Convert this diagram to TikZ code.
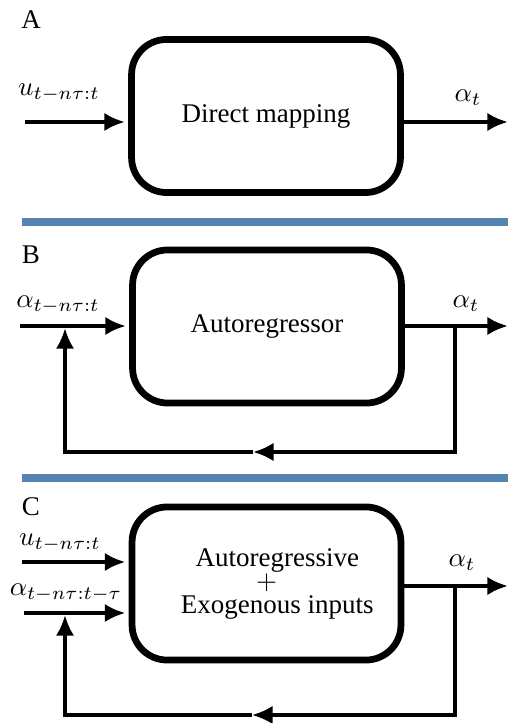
\documentclass[tikz,border=0pt]{standalone}
\usepackage{fontspec}
\setmainfont{Liberation Serif}
\usetikzlibrary{arrows.meta}
\definecolor{sepblue}{RGB}{86,132,176}
\tikzset{
  blockbox/.style={draw, line width=2.5pt, rounded corners=13pt, minimum width=99.6pt, minimum height=56.7pt, align=center, font=\fontsize{10}{12}\selectfont},
  sigarrow/.style={line width=1.6pt, -{Latex[length=7.6pt,width=6.8pt]}},
  fbline/.style={line width=1.3pt},
  fbarrow/.style={line width=1.3pt, -{Latex[length=7.6pt,width=6.8pt]}},
  seprule/.style={draw=sepblue, line width=2.6pt},
  panel/.style={font=\fontsize{10}{12}\selectfont},
  siglabel/.style={font=\fontsize{10}{12}\selectfont, inner sep=0pt}
}
\begin{document}
\begin{tikzpicture}[x=0.3704pt,y=-0.3704pt]
\useasboundingbox (0,0) rectangle (508,723);
% ---------- A ----------
\node[panel] (labA) at (31,20) {A};
\node[blockbox] (boxA) at (266,116) {Direct mapping};
\coordinate (inA) at (25,122);
\coordinate (outA) at (508,122);
\draw[sigarrow, shorten >=1.2pt] (inA) -- (boxA.west |- inA);
\draw[sigarrow] (boxA.east |- outA) -- (outA);
\node[siglabel] (uA) at (59,93) {$u_{t-n\tau:t}$};
\node[siglabel] (aA) at (468,98) {$\alpha_t$};
% separator 1
\coordinate (s1a) at (22,222);
\coordinate (s1b) at (508,222);
\draw[seprule] (s1a) -- (s1b);
% ---------- B ----------
\node[panel] (labB) at (31,255) {B};
\node[blockbox] (boxB) at (267,326.5) {\raisebox{-1pt}{Autoregressor}};
\coordinate (inB) at (20,326);
\coordinate (outB) at (508,326);
\coordinate (jB) at (455,326);
\coordinate (cB1) at (455,452);
\coordinate (mB) at (253,452);
\coordinate (cB2) at (65,452);
\coordinate (kB) at (65,326);
\draw[sigarrow, shorten >=1.2pt] (inB) -- (boxB.west |- inB);
\draw[sigarrow] (boxB.east |- outB) -- (outB);
\draw[fbarrow] (jB) -- (cB1) -- (mB);
\draw[fbarrow, shorten >=0.8pt] (mB) -- (cB2) -- (kB);
\node[siglabel] (aInB) at (58,305) {$\alpha_{t-n\tau:t}$};
\node[siglabel] (aB) at (466,304) {$\alpha_t$};
% separator 2
\coordinate (s2a) at (22,478);
\coordinate (s2b) at (508,478);
\draw[seprule] (s2a) -- (s2b);
% ---------- C ----------
\node[panel] (labC) at (31,507) {C};
\node[blockbox, font=\fontsize{10}{8.7}\selectfont] (boxC) at (266.5,583.5) {\hspace*{8pt}Autoregressive\\$+$\\\hspace*{8pt}Exogenous inputs};
\coordinate (inCu) at (22,562);
\coordinate (inCa) at (24,613);
\coordinate (outC) at (508,586);
\coordinate (jC) at (455,586);
\coordinate (cC1) at (455,715);
\coordinate (mC) at (252,715);
\coordinate (cC2) at (65,715);
\coordinate (kC) at (65,613);
\draw[sigarrow, shorten >=1.2pt] (inCu) -- (boxC.west |- inCu);
\draw[sigarrow, shorten >=1.2pt] (inCa) -- (boxC.west |- inCa);
\draw[sigarrow] (boxC.east |- outC) -- (outC);
\draw[fbarrow] (jC) -- (cC1) -- (mC);
\draw[fbarrow, shorten >=0.8pt] (mC) -- (cC2) -- (kC);
\node[siglabel] (uC) at (60,543) {$u_{t-n\tau:t}$};
\node[siglabel] (aInC) at (66,593) {$\alpha_{t-n\tau:t-\tau}$};
\node[siglabel] (aC) at (462,563) {$\alpha_t$};
\end{tikzpicture}
\end{document}
